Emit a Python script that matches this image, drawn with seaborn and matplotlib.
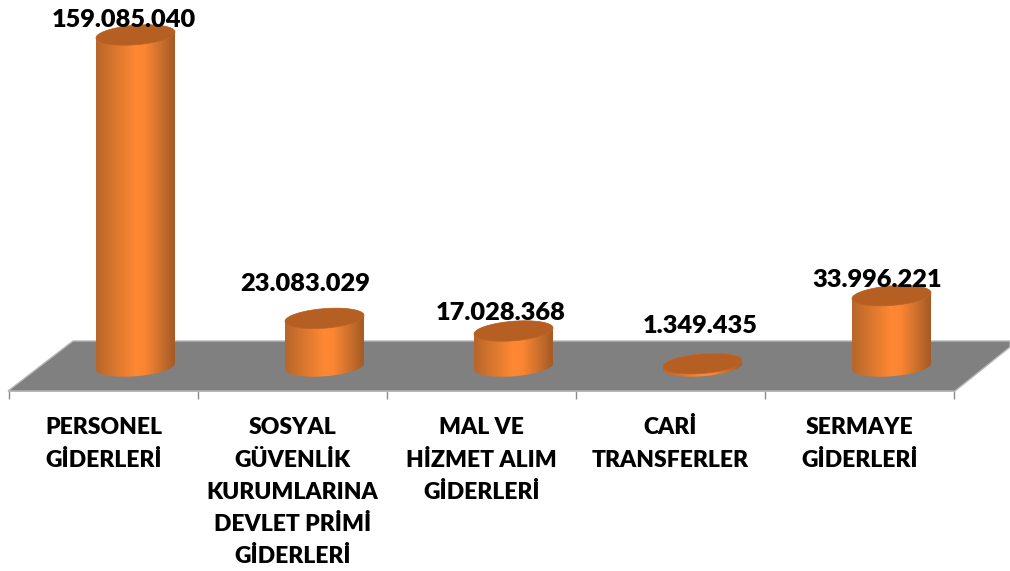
import numpy as np
import pandas as pd
from matplotlib import pyplot as plt
from matplotlib.colors import LinearSegmentedColormap
from matplotlib.path import Path
import seaborn as sns

categories = ["PERSONEL\nGİDERLERİ",
              "SOSYAL\nGÜVENLİK\nKURUMLARINA\nDEVLET PRİMİ\nGİDERLERİ",
              "MAL VE\nHİZMET ALIM\nGİDERLERİ",
              "CARİ\nTRANSFERLER",
              "SERMAYE\nGİDERLERİ"]
values = [159085040, 23083029, 17028368, 1349435, 33996221]
# hand placed label offsets from the bar top, in pixels
label_dx = [-12, -19, -13, -2, -14]
label_dy = [15, 34, 18, 38, 16]

W, H = 1010, 571
UNITS_PER_PX = 479900
BASE_Y = 366.5
FLOOR_Y = 391
BAR_SHIFT = 32 / 189

sns.set_theme(style="white")
plt.rcParams['font.family'] = ['Lato', 'DejaVu Sans']
df = pd.DataFrame({"Kalem": categories, "Tutar": values})

fig = plt.figure(figsize=(W / 100, H / 100), dpi=100)
ax = fig.add_axes([9 / W, 1 - FLOOR_Y / H, 945 / W, FLOOR_Y / H])
ax.patch.set_alpha(0)
sns.barplot(data=df, x="Kalem", y="Tutar", color="#FF8833", width=79 / 189, ax=ax)
ax.set_xlim(-0.5, 4.5)
ax.set_ylim(-(FLOOR_Y - BASE_Y) * UNITS_PER_PX, BASE_Y * UNITS_PER_PX)
ax.set(xlabel=None, ylabel=None, yticks=[])
for side in ["top", "left", "right"]:
    ax.spines[side].set_visible(False)
ax.spines["bottom"].set_color("#b0b0b0")

ax.set_xticks(range(5))
ax.set_xticklabels(categories, fontsize=16.5, fontweight=800, color="black", linespacing=1.66)
ax.tick_params(axis="x", which="major", length=0, pad=19)
ax.set_xticks(np.arange(-0.5, 5), minor=True)
ax.tick_params(axis="x", which="minor", bottom=True, length=6, width=1, color="#8c8c8c")

# pixel space overlay for floor and the cylinder look
ov = fig.add_axes([0, 0, 1, 1], zorder=2)
ov.axis("off")
ov.set_xlim(0, W)
ov.set_ylim(H, 0)
ov.set_autoscale_on(False)

ov.fill([8, 73, 1010, 1010, 955], [391, 341, 341, 347, 391],
        facecolor="#808080", edgecolor="#b8b8b8", linewidth=1, zorder=1)

side_cmap = LinearSegmentedColormap.from_list(
    "side", [(0, "#b9662a"), (0.12, "#c96f2c"), (0.5, "#ff8833"), (0.62, "#fb8532"),
             (0.88, "#c06a2b"), (1, "#a65a24")])


def ellipse_points(cx, cy, t):
    return np.column_stack([cx + 39.5 * np.cos(t), cy - 9.8 * np.sin(t) - 3 * np.cos(t)])


to_ov = ax.transData + ov.transData.inverted()
for patch, value, dx, dy in zip(ax.patches, values, label_dx, label_dy):
    patch.set_x(patch.get_x() + BAR_SHIFT)
    center = patch.get_x() + patch.get_width() / 2
    cx, top = to_ov.transform((center, value))
    _, base = to_ov.transform((center, 0))

    lower = np.linspace(np.pi, 2 * np.pi, 60)
    upper = np.linspace(0, np.pi, 60)
    outline = np.vstack([ellipse_points(cx, base, lower), ellipse_points(cx, top, upper)])
    body = Path(np.vstack([outline, outline[:1]]), closed=True)
    patch.set_clip_path(body, transform=ov.transData)

    im = ov.imshow(np.linspace(0, 1, 80).reshape(1, -1), cmap=side_cmap, aspect="auto",
                   extent=(cx - 39.5, cx + 39.5, base + 14, top - 14), zorder=2)
    im.set_clip_path(body, transform=ov.transData)

    cap = ellipse_points(cx, top, np.linspace(0, 2 * np.pi, 120))
    ov.fill(cap[:, 0], cap[:, 1], facecolor="#b65f23", edgecolor="#c06428", linewidth=0.5, zorder=3)

    ov.annotate(f"{value:,}".replace(",", "."), xy=(cx, top), xytext=(dx, dy),
                textcoords="offset pixels", ha="center", va="center",
                fontsize=18.3, fontweight=800, color="black", zorder=4)

plt.savefig("out.png", dpi=100)
